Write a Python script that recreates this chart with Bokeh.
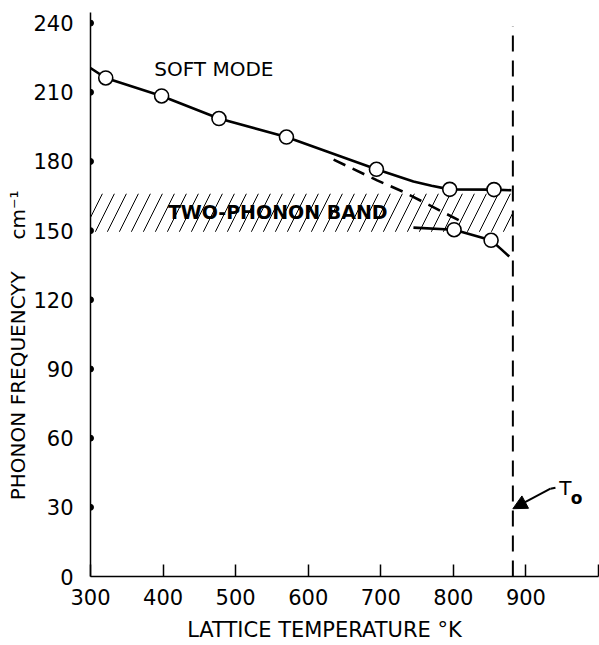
from bokeh.plotting import figure
from bokeh.models import Range1d, FixedTicker, Arrow, NormalHead, Label
from bokeh.embed import file_html
from bokeh.resources import INLINE

# ---- data ----
x_ticks = [300, 400, 500, 600, 700, 800, 900, 1000]
y_ticks = [0, 30, 60, 90, 120, 150, 180, 210, 240]
y_dot_ticks = [30, 60, 90, 120, 150, 180, 210, 240]

soft_T = [321, 398, 477, 570, 694, 795, 856]
soft_f = [216.2, 208.4, 198.6, 190.6, 176.6, 167.9, 167.8]

low_T = [801, 852]
low_f = [150.4, 145.8]

upper_curve_T = [300, 321, 398, 477, 570, 694, 745, 770, 795, 856, 880]
upper_curve_f = [220.5, 216.2, 208.4, 198.6, 190.6, 176.6, 171.3, 169.5, 167.9, 167.8, 167.5]

lower_curve_T = [745, 801, 852, 865, 877]
lower_curve_f = [151.3, 150.4, 145.8, 142.2, 138.8]

extrap_T = [635, 695, 732, 813]
extrap_f = [180.8, 171.8, 166.7, 153.6]

T0 = 882
T0_line_f = [0, 238.6]
band_T = [300, 882]
band_lo = 149.5
band_hi = 166.0

arrow_T = [940.7, 933.8, 882]
arrow_f = [38.5, 38.1, 29.4]

FONT = "DejaVu Sans"
NB = "\u00a0"

p = figure(width=599, height=645,
           x_range=Range1d(300, 1000), y_range=Range1d(0, 244.6),
           output_backend="svg", toolbar_location=None,
           min_border_left=90, min_border_right=1,
           min_border_top=12, min_border_bottom=69)
p.grid.visible = False
p.outline_line_color = None
p.background_fill_color = "white"
p.border_fill_color = "white"

# x axis
xa = p.xaxis[0]
xa.ticker = FixedTicker(ticks=x_ticks)
xa.major_label_overrides = {1000: ""}
xa.major_tick_in = 12
xa.major_tick_out = 0
xa.major_tick_line_width = 1.5
xa.minor_tick_line_color = None
xa.axis_line_width = 1.5
xa.major_label_text_font = FONT
xa.major_label_text_font_size = "21px"
xa.major_label_text_color = "black"
xa.major_label_standoff = 12
xa.axis_label = "LATTICE TEMPERATURE °K" + NB * 6
xa.axis_label_text_font = FONT
xa.axis_label_text_font_size = "21px"
xa.axis_label_text_font_style = "normal"
xa.axis_label_text_color = "black"
xa.axis_label_standoff = 10

# y axis
ya = p.yaxis[0]
ya.ticker = FixedTicker(ticks=y_ticks)
ya.major_tick_line_color = None
ya.minor_tick_line_color = None
ya.axis_line_width = 1.5
ya.major_label_text_font = FONT
ya.major_label_text_font_size = "21px"
ya.major_label_text_color = "black"
ya.major_label_standoff = 11
ya.axis_label = "PHONON FREQUENCYY" + NB * 5 + "cm\u207b\u00b9" + NB * 16
ya.axis_label_text_font = FONT
ya.axis_label_text_font_size = "20px"
ya.axis_label_text_font_style = "normal"
ya.axis_label_text_color = "black"
ya.axis_label_standoff = 0

# dots on the y axis
p.scatter([300] * len(y_dot_ticks), y_dot_ticks, size=6, color="black")

# hatched two-phonon band
p.varea(x=band_T, y1=[band_lo] * 2, y2=[band_hi] * 2,
        fill_alpha=0, hatch_pattern="/", hatch_scale=24,
        hatch_weight=1, hatch_color="black")

# T0 dashed line
p.line([T0, T0], T0_line_f, line_color="black", line_width=2, line_dash="16 9")

# curves
p.line(upper_curve_T, upper_curve_f, line_color="black", line_width=2.6)
p.line(lower_curve_T, lower_curve_f, line_color="black", line_width=2.6)
p.line(extrap_T, extrap_f, line_color="black", line_width=2.6, line_dash="13 8")

# data points
p.scatter(soft_T, soft_f, size=14, fill_color="white", line_color="black", line_width=1.6)
p.scatter(low_T, low_f, size=14, fill_color="white", line_color="black", line_width=1.6)

# text labels
p.add_layout(Label(x=470, y=220.2, text="SOFT MODE", text_font=FONT,
                   text_font_size="20px", text_align="center",
                   text_baseline="middle", text_color="black"))
p.add_layout(Label(x=558, y=158.1, text="TWO-PHONON BAND", text_font=FONT,
                   text_font_size="19px", text_font_style="bold",
                   text_align="center", text_baseline="middle", text_color="black"))
p.add_layout(Label(x=954.5, y=38.4, text="T", text_font=FONT,
                   text_font_size="20px", text_align="center",
                   text_baseline="middle", text_color="black"))
p.add_layout(Label(x=969.7, y=34.0, text="o", text_font=FONT,
                   text_font_size="17px", text_font_style="bold", text_align="center",
                   text_baseline="middle", text_color="black"))

# arrow to T0
p.line(arrow_T[:2], arrow_f[:2], line_color="black", line_width=2)
p.add_layout(Arrow(end=NormalHead(size=14, fill_color="black", line_color="black"),
                   x_start=arrow_T[1], y_start=arrow_f[1],
                   x_end=arrow_T[2], y_end=arrow_f[2],
                   line_color="black", line_width=2))

open("out.html", "w").write(file_html(p, INLINE))
